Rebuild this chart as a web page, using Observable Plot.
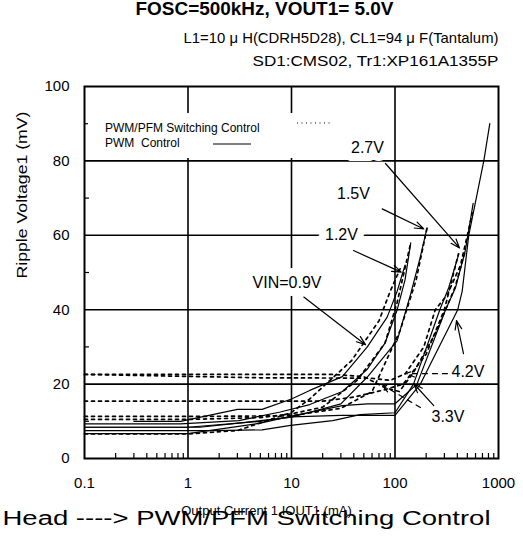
<!DOCTYPE html>
<html><head><meta charset="utf-8">
<script src="https://cdn.jsdelivr.net/npm/d3@7"></script>
<script src="https://cdn.jsdelivr.net/npm/@observablehq/plot@0.6"></script>
<style>
html,body{margin:0;padding:0;background:#fff;}
#wrap{position:relative;width:523px;height:539px;font-family:"Liberation Sans",Arial,sans-serif;}
#legend{position:absolute;left:88px;top:113px;width:252px;height:45px;background:#fff;font-size:12px;color:#000;}
#legend .t{position:absolute;left:17px;white-space:pre;line-height:14px;}
#legend svg{position:absolute;left:0;top:0;}
</style></head><body><div id="wrap"></div>
<script>
// ---- text ----
const title = "FOSC=500kHz, VOUT1= 5.0V";
const subtitle1 = "L1=10 μ H(CDRH5D28), CL1=94 μ F(Tantalum)";
const subtitle2 = "SD1:CMS02, Tr1:XP161A1355P";
const xLabel = "Output Current 1 IOUT1 (mA)";
const yLabel = "Ripple Voltage1 (mV)";
const footer = "Head ----> PWM/PFM Switching Control";
const legendLabels = ["PWM/PFM Switching Control", "PWM  Control"];

// ---- ticks ----
const xTicks = [0.1, 1, 10, 100, 1000];
const xTickLabels = ["0.1", "1", "10", "100", "1000"];
const yTicks = [0, 20, 40, 60, 80, 100];
const xGrid = [1, 10, 100];
const yGrid = [20, 40, 60, 80];
const yMinor = [10, 30, 50, 70, 90];
const xMinor = [0.2,0.3,0.4,0.5,0.6,0.7,0.8,0.9, 2,3,4,5,6,7,8,9, 20,30,40,50,60,70,80,90, 200,300,400,500,600,700,800,900];

// ---- series: [IOUT1 (mA), ripple (mV)] ----
const seriesNames = ["0.9V", "1.2V", "1.5V", "2.7V", "3.3V", "4.2V"];
// PWM control (solid)
const pwm09 = [[0.3,10],[0.85,10],[3,13.2],[5.2,13.2],[10,16],[15,18.3],[31,22],[54,30],[84,38],[105,45],[125,52]];
const pwm12 = [[0.1,9.3],[0.85,9.3],[3.1,10.2],[7.8,12.5],[15,14.5],[31,18],[54,24],[80,31],[105,40],[125,48],[142,58]];
const pwm15 = [[0.1,8.4],[1.3,8.4],[3.1,9.5],[10,11.1],[30,14.7],[54,21.9],[105,31.7],[142,44.3],[175,54],[204,62]];
const pwm27 = [[0.1,7.5],[1.8,7.5],[5.2,7.7],[9.8,8.9],[25,10.2],[46,11.8],[100,12.3],[151,20],[271,40],[331,46],[414,55]];
const pwm33 = [[0.1,6.7],[1,6.7],[5,9.5],[10,11.4],[31,14.2],[54,14.7],[100,14.7],[163,20],[308,40],[385,46],[479,56],[569,68.6]];
const pwm42 = [[0.1,8.4],[1,8.4],[5,10],[10,11.2],[30,11.6],[100,11.6],[176,20],[404,40],[446,45],[516,60],[721,80],[824,90]];
// PWM/PFM switching control (dotted)
const pfm09 = [[0.1,6.6],[1,6.6],[3,7.5],[10,12.4],[15,16],[38,26.3],[70,37],[90,45],[112,51]];
const pfm12 = [[0.1,10.5],[1,10.5],[5,11],[10,12],[20,13.8],[43,21],[80,31],[105,42],[142,58]];
const pfm15 = [[0.1,11.3],[1,11.3],[10,11.5],[30,13.5],[60,18],[112,34.4],[160,48],[204,62]];
const pfm27 = [[0.1,15.4],[20,15.4],[40,16.5],[80,18.5],[120,20],[200,28],[300,40],[410,55]];
const pfm33 = [[0.1,22.6],[5,22.6],[25,22.6],[50,22],[80,19],[110,18],[150,23],[250,34],[380,46],[480,56]];
const pfm42 = [[0.1,22.6],[5,21.7],[58,21.6],[90,21],[126,22.8],[190,30],[245,40],[320,44],[430,52],[560,66]];

// ---- annotations (data units) ----
const annLabels = ["2.7V", "1.5V", "1.2V", "VIN=0.9V", "4.2V", "3.3V"];
const annX = [54.2, 39.7, 30.4, 9.05, 507, 325];
const annY = [83.6, 71.2, 60, 47.3, 23.25, 11.2];
const arrowFromX = [80.9, 75.2, 39.7, 13.15, 459, 237];
const arrowFromY = [79.3, 67.1, 55.9, 43.4, 28.2, 14.2];
const arrowToX = [420, 189.8, 114.8, 51.9, 393, 152];
const arrowToY = [56.6, 61.7, 50.1, 30.6, 37.1, 20.1];
const dashArrowFromX = [321, 176];
const dashArrowFromY = [22.8, 13.7];
const dashArrowToX = [126.3, 74.1];
const dashArrowToY = [22.8, 19.9];

// ---- build tables ----
const pwmSeries = [pwm09, pwm12, pwm15, pwm27, pwm33, pwm42];
const pfmSeries = [pfm09, pfm12, pfm15, pfm27, pfm33, pfm42];
const pwmRows = pwmSeries.flatMap((s, i) => s.map(([x, y]) => ({series: seriesNames[i], x, y})));
const pfmRows = pfmSeries.flatMap((s, i) => s.map(([x, y]) => ({series: seriesNames[i], x, y})));
const annRows = annLabels.map((t, i) => ({t, x: annX[i], y: annY[i]}));
const arrowRows = arrowFromX.map((_, i) => ({x1: arrowFromX[i], y1: arrowFromY[i], x2: arrowToX[i], y2: arrowToY[i]}));
const dashArrowRows = dashArrowFromX.map((_, i) => ({x1: dashArrowFromX[i], y1: dashArrowFromY[i], x2: dashArrowToX[i], y2: dashArrowToY[i]}));

const W = 523, H = 539, ML = 84, MR = 25, MT = 86, MB = 81;
const plotW = W - ML - MR, plotH = H - MT - MB;

const chart = Plot.plot({
  width: W, height: H,
  marginLeft: ML, marginRight: MR, marginTop: MT, marginBottom: MB,
  style: {fontFamily: "'Liberation Sans', Arial, sans-serif", fontSize: "15px", color: "black", background: "white"},
  x: {type: "log", domain: [0.1, 1000]},
  y: {domain: [0, 100]},
  marks: [
    Plot.ruleX(xGrid, {stroke: "black", strokeWidth: 1.6}),
    Plot.ruleY(yGrid, {stroke: "black", strokeWidth: 1.6}),
    Plot.tickX(xMinor, {x: d => d, insetTop: plotH - 5, stroke: "black", strokeWidth: 1.2}),
    Plot.tickY(yMinor, {y: d => d, insetRight: plotW - 5, stroke: "black", strokeWidth: 1.2}),
    Plot.line(pwmRows, {x: "x", y: "y", z: "series", stroke: "black", strokeWidth: 1.2}),
    Plot.line(pfmRows, {x: "x", y: "y", z: "series", stroke: "black", strokeWidth: 1.7, strokeDasharray: "3,4"}),
    Plot.frame({stroke: "black", strokeWidth: 2}),
    Plot.text(annRows, {x: "x", y: "y", text: "t", fontSize: 16, fill: "black", stroke: "white", strokeWidth: d => d.t === "4.2V" ? 7 : 16, strokeLinejoin: "round", paintOrder: "stroke"}),
    Plot.arrow(arrowRows, {x1: "x1", y1: "y1", x2: "x2", y2: "y2", stroke: "black", strokeWidth: 1.2, headLength: 12, headAngle: 40}),
    Plot.arrow(dashArrowRows, {x1: "x1", y1: "y1", x2: "x2", y2: "y2", stroke: "black", strokeWidth: 1.2, headLength: 12, headAngle: 40, strokeDasharray: "5,5"}),
    Plot.axisX({ticks: xTicks, tickFormat: d => xTickLabels[xTicks.indexOf(d)], tickSize: 0, tickPadding: 19, fontSize: 15, label: null}),
    Plot.axisY({ticks: yTicks, tickSize: 0, tickPadding: 15, fontSize: 15, label: null}),
    Plot.text([title], {text: d => d, frameAnchor: "top", dx: -27, dy: -77, lineAnchor: "middle", fontSize: 18, fontWeight: "bold"}),
    Plot.text([subtitle1], {text: d => d, frameAnchor: "top-right", textAnchor: "end", dx: 0, dy: -48, lineAnchor: "middle", fontSize: 15}),
    Plot.text([subtitle2], {text: d => d, frameAnchor: "top-right", textAnchor: "end", dx: 0, dy: -25, lineAnchor: "middle", fontSize: 15}),
    Plot.text([yLabel], {text: d => d, frameAnchor: "left", dx: -62, dy: 6, rotate: -90, lineAnchor: "middle", fontSize: 15}),
    Plot.text([xLabel], {text: d => d, frameAnchor: "bottom", dx: -25, dy: 52, lineAnchor: "middle", fontSize: 13}),
    Plot.text([footer], {text: d => d, frameAnchor: "bottom-left", textAnchor: "start", dx: -82, dy: 60, lineAnchor: "middle", fontSize: 20})
  ]
});

// stretch wide texts to the widths seen in the reference
const stretch = new Map([[footer, 488], [title, 258], [subtitle1, 315], [subtitle2, 246], [yLabel, 167]]);
d3.select(chart).selectAll("text").each(function() {
  const s = this.textContent;
  if (stretch.has(s)) d3.select(this).attr("textLength", stretch.get(s)).attr("lengthAdjust", "spacingAndGlyphs");
});

const wrap = document.getElementById("wrap");
wrap.appendChild(chart);

// legend (HTML overlay)
const legend = document.createElement("div");
legend.id = "legend";
legend.innerHTML =
  `<svg width="252" height="45"><line x1="209" x2="245" y1="10" y2="10" stroke="black" stroke-width="1.2" stroke-dasharray="1,3.5"/>` +
  `<line x1="125" x2="163" y1="31" y2="31" stroke="black" stroke-width="1.2"/></svg>` +
  `<div class="t" style="top:8px">${legendLabels[0]}</div>` +
  `<div class="t" style="top:23px">${legendLabels[1]}</div>`;
wrap.appendChild(legend);
</script>
</body></html>
